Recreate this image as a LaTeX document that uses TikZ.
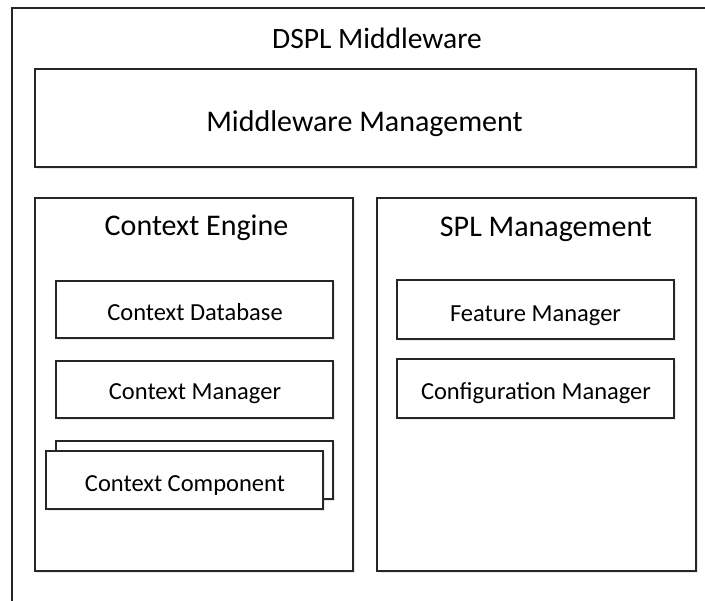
\documentclass[tikz,border=0pt]{standalone}
\usepackage{fontspec}
\setmainfont{Carlito}
\usetikzlibrary{shadows}
\tikzset{
  box/.style={draw=black!85, line width=1.3pt, fill=white, inner sep=0pt,
    drop shadow={opacity=0.18, shadow xshift=2pt, shadow yshift=-2.5pt}},
  bigtxt/.style={font=\fontsize{30}{36}\selectfont, inner sep=0pt, anchor=base},
  smalltxt/.style={font=\fontsize{24.5}{29}\selectfont, inner sep=0pt, anchor=base},
}
\begin{document}
\begin{tikzpicture}[x=1pt,y=-1pt]
\useasboundingbox[fill=white] (0,0) rectangle (705,601);
\coordinate (ob) at (12,601);
\coordinate (otl) at (12,8);
\coordinate (or) at (705,8);
\draw[black!85, line width=1.3pt] (ob) -- (otl) -- (or);
\node[bigtxt, font=\fontsize{29.5}{35}\selectfont] (dspl) at (377,49) {DSPL Middleware};
% boxes
\node[box, minimum width=661pt, minimum height=98pt] (mm) at (365.5,118) {};
\node[box, minimum width=318pt, minimum height=373pt] (ce) at (194,384.5) {};
\node[box, minimum width=319pt, minimum height=373pt] (spl) at (536.5,384.5) {};
\node[box, minimum width=277pt, minimum height=57pt] (cdb) at (194.5,309.5) {};
\node[box, minimum width=277pt, minimum height=57pt] (cm) at (194.5,389.5) {};
\node[box, minimum width=277pt, minimum height=58pt] (ccb) at (194.5,470) {};
\node[box, minimum width=277pt, minimum height=58pt] (cc) at (184.5,480) {};
\node[box, minimum width=277pt, minimum height=59pt] (fm) at (535.5,309.5) {};
\node[box, minimum width=277pt, minimum height=59pt] (cfg) at (535.5,388.5) {};
% texts
\node[bigtxt] (mmt) at (364.5,132) {Middleware Management};
\node[bigtxt] (cet) at (196.5,236) {Context Engine};
\node[bigtxt] (splt) at (546,237) {SPL Management};
\node[smalltxt] (cdbt) at (195,321) {Context Database};
\node[smalltxt] (cmt) at (195,400) {Context Manager};
\node[smalltxt] (cct) at (185,492) {Context Component};
\node[smalltxt] (fmt) at (535.5,322) {Feature Manager};
\node[smalltxt] (cfgt) at (536,400) {Configuration Manager};
\end{tikzpicture}
\end{document}
